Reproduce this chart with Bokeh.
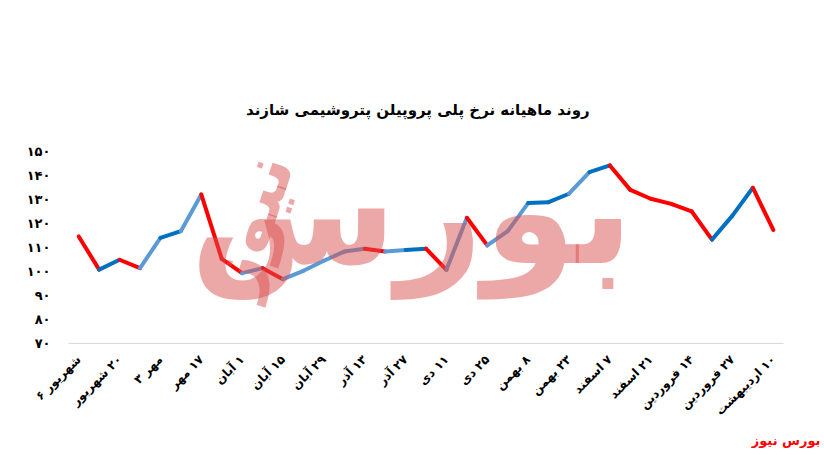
from bokeh.plotting import figure
from bokeh.models import FixedTicker, Label, ColumnDataSource, Title
from bokeh.embed import file_html
from bokeh.resources import INLINE
import math

title_text = "روند ماهیانه نرخ پلی پروپیلن پتروشیمی شازند"
source_text = "بورس نیوز"
wm_big = "بورس"
wm_small = "نیوز"

RLM = "\u200f"  # right-to-left mark: keeps the day number on the right side
date_labels = ["شهریور ۶", RLM + "۲۰ شهریور", "مهر ۳", RLM + "۱۷ مهر",
               RLM + "۱ آبان", RLM + "۱۵ آبان", RLM + "۲۹ آبان", RLM + "۱۳ آذر",
               RLM + "۲۷ آذر", RLM + "۱۱ دی", RLM + "۲۵ دی", RLM + "۸ بهمن",
               RLM + "۲۳ بهمن", RLM + "۷ اسفند", RLM + "۲۱ اسفند",
               RLM + "۱۴ فروردین", RLM + "۲۷ فروردین", RLM + "۱۰ اردیبهشت"]

prices = [114.6, 100.8, 104.9, 101.4, 114.0, 116.8, 132.1, 105.3, 99.3, 101.4,
          96.8, 100.3, 104.5, 108.3, 109.5, 108.3, 109.0, 109.5, 100.7, 122.4,
          110.9, 116.8, 128.5, 128.9, 132.4, 141.4, 144.2, 134.0, 130.3, 128.2,
          125.1, 113.3, 123.3, 134.9, 117.3]

y_ticks = [70, 80, 90, 100, 110, 120, 130, 140, 150]
y_tick_labels = ["۷۰", "۸۰", "۹۰", "۱۰۰", "۱۱۰", "۱۲۰", "۱۳۰", "۱۴۰", "۱۵۰"]

# style: rising segments drawn in the lighter blue shade
light_segments = {3, 5, 8, 10, 11, 12, 13, 15, 18, 20, 21, 24}

RED = "#FF0000"
DARK_BLUE = "#0070C0"
LIGHT_BLUE = "#5B9BD5"

xs = list(range(len(prices)))
x0, y0, x1, y1, cols = [], [], [], [], []
for i in range(len(prices) - 1):
    x0.append(xs[i]); y0.append(prices[i])
    x1.append(xs[i + 1]); y1.append(prices[i + 1])
    if prices[i + 1] < prices[i]:
        cols.append(RED)
    else:
        cols.append(LIGHT_BLUE if i in light_segments else DARK_BLUE)
seg_src = ColumnDataSource(dict(x0=x0, y0=y0, x1=x1, y1=y1, c=cols))

FONT = "DejaVu Sans"
Y_MIN = 70
Y_TOP = 187.92   # room above the 150 tick for title/watermark

p = figure(width=824, height=452, output_backend="svg", toolbar_location=None,
           x_range=(-0.5, len(prices) - 0.5), y_range=(Y_MIN, Y_TOP),
           min_border_left=68, min_border_right=41, min_border_top=60,
           min_border_bottom=109, outline_line_color=None)
p.background_fill_color = "white"
p.border_fill_color = "white"

p.segment(x0="x0", y0="y0", x1="x1", y1="y1", line_color="c", line_width=4,
          line_cap="round", source=seg_src)

# axes
p.xgrid.visible = False
p.ygrid.visible = False
label_idx = list(range(0, len(prices), 2))
p.xaxis.ticker = FixedTicker(ticks=label_idx)
p.xaxis.major_label_overrides = {i: date_labels[k] for k, i in enumerate(label_idx)}
p.xaxis.major_label_orientation = math.pi / 4
p.xaxis.axis_line_color = "#D9D9D9"
p.xaxis.axis_line_width = 1
p.xaxis.major_tick_line_color = None
p.xaxis.minor_tick_line_color = None
p.xaxis.major_tick_out = 0
p.xaxis.major_label_standoff = 14
p.xaxis.major_label_text_font = FONT
p.xaxis.major_label_text_font_style = "bold"
p.xaxis.major_label_text_font_size = "12px"
p.xaxis.major_label_text_color = "black"

p.yaxis.ticker = FixedTicker(ticks=y_ticks)
p.yaxis.major_label_overrides = {t: s for t, s in zip(y_ticks, y_tick_labels)}
p.yaxis.axis_line_color = None
p.yaxis.major_tick_line_color = None
p.yaxis.minor_tick_line_color = None
p.yaxis.major_tick_out = 0
p.yaxis.major_label_standoff = 18
p.yaxis.major_label_text_font = FONT
p.yaxis.major_label_text_font_style = "bold"
p.yaxis.major_label_text_font_size = "13px"
p.yaxis.major_label_text_color = "black"

# watermark (semi-transparent logo text)
p.add_layout(Label(x=16.3, y=125.4, text=wm_big, text_align="center",
                   text_baseline="middle", text_font=FONT, text_font_style="bold",
                   text_font_size="150px", text_color="#D94F4F", text_alpha=0.5))
p.add_layout(Label(x=8.3, y=120, text=wm_small, text_align="center",
                   text_baseline="middle", text_font=FONT, text_font_style="bold",
                   text_font_size="72px", text_color="#D94F4F", text_alpha=0.5,
                   angle=1.25))

# title
p.add_layout(Label(x=16.6, y=167.1, text=title_text, text_align="center",
                   text_baseline="middle", text_font=FONT, text_font_style="bold",
                   text_font_size="15px", text_color="black"))

# source tag below the chart
p.add_layout(Title(text=source_text, align="right", text_font=FONT,
                   text_font_style="bold", text_font_size="13px",
                   text_color="#FF0000", standoff=10, offset=-37), "below")

open("out.html", "w").write(file_html(p, INLINE))
